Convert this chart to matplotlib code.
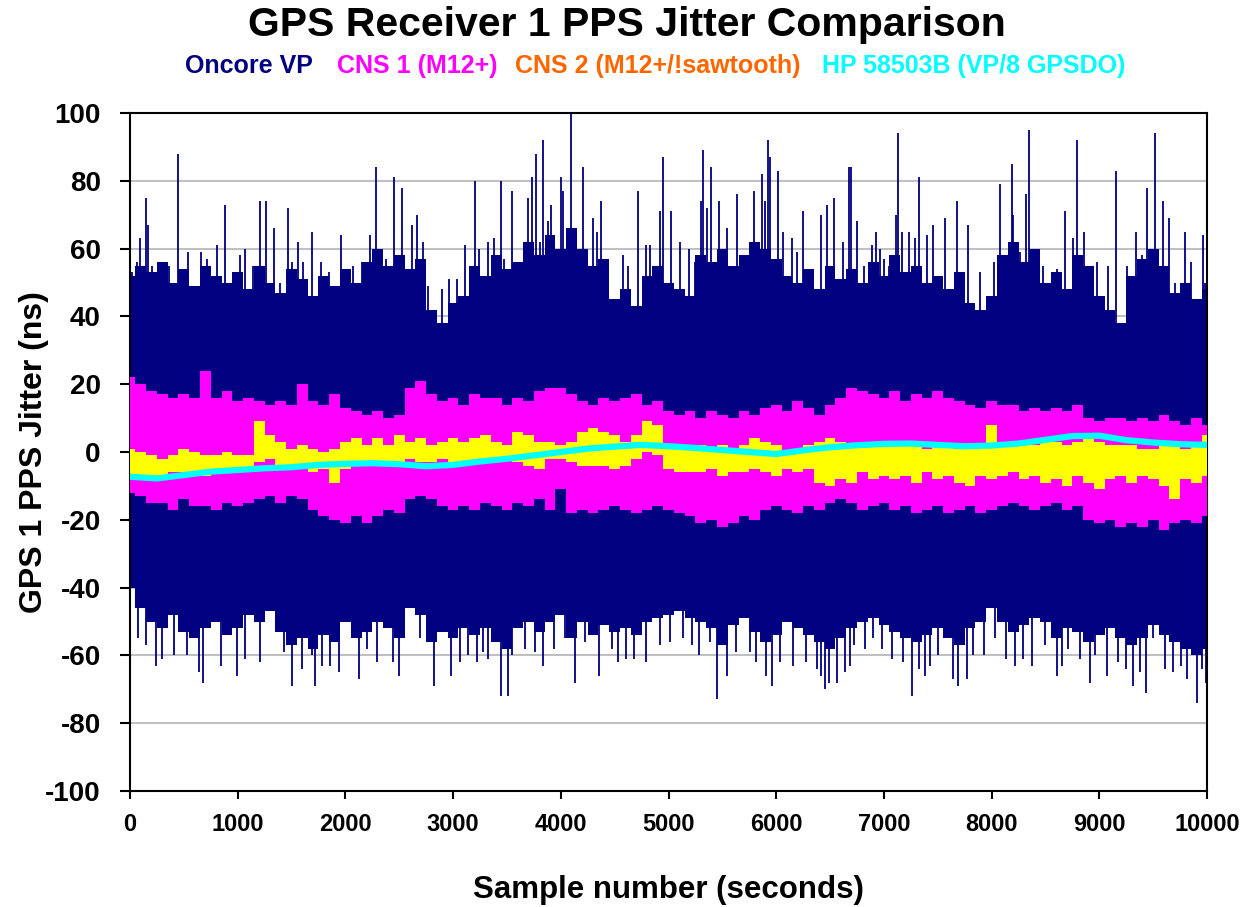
import matplotlib
matplotlib.use('Agg')
import matplotlib.pyplot as plt

plt.rcParams['font.family'] = ['Liberation Sans', 'DejaVu Sans']
plt.rcParams['axes.unicode_minus'] = False

# Oncore VP: tall spikes above zero (sample, ns)
top_x = [15, 62, 93, 149, 170, 201, 263, 310, 365, 443, 495, 535, 619, 659, 718, 811, 882, 975,
         1021, 1068, 1139, 1207, 1263, 1337, 1393, 1464, 1501, 1557, 1609, 1687, 1773, 1851, 1956,
         2067, 2157, 2228, 2284, 2377, 2451, 2523, 2615, 2668, 2724, 2764, 2894, 2965, 3033, 3110,
         3200, 3244, 3327, 3383, 3442, 3473, 3550, 3621, 3693, 3730, 3767, 3807, 3838, 3878, 3912,
         4002, 4024, 4092, 4141, 4203, 4302, 4333, 4373, 4426, 4575, 4627, 4720, 4791, 4828, 4921,
         4952, 5023, 5107, 5194, 5246, 5299, 5317, 5355, 5392, 5466, 5540, 5633, 5711, 5794, 5865,
         5899, 5924, 5943, 6014, 6067, 6144, 6196, 6252, 6345, 6413, 6469, 6537, 6617, 6679, 6691,
         6747, 6815, 6889, 6926, 6963, 7004, 7050, 7109, 7127, 7165, 7236, 7291, 7329, 7403, 7459,
         7567, 7675, 7784, 7892, 8022, 8078, 8115, 8186, 8201, 8263, 8319, 8350, 8480, 8604, 8681,
         8758, 8789, 8860, 8975, 9084, 9155, 9260, 9340, 9393, 9446, 9520, 9594, 9650, 9702, 9795,
         9848, 9959, 9981]
top_y = [53, 56, 63, 75, 67, 55, 51, 56, 55, 88, 52, 59, 48, 59, 57, 61, 73, 53,
         58, 60, 55, 74, 74, 66, 50, 72, 56, 62, 56, 65, 56, 53, 64,
         55, 56, 64, 84, 57, 81, 78, 67, 70, 62, 49, 48, 51, 51, 61,
         80, 60, 62, 63, 80, 57, 77, 55, 75, 81, 88, 62, 92, 68, 73,
         81, 77, 100, 57, 84, 69, 65, 74, 57, 58, 55, 77, 61, 61, 71,
         87, 71, 62, 60, 56, 74, 89, 72, 84, 74, 66, 76, 54, 77, 82,
         74, 92, 87, 83, 65, 63, 59, 71, 54, 70, 73, 75, 62, 84, 84,
         68, 55, 61, 65, 60, 57, 55, 70, 94, 65, 65, 63, 81, 64, 67,
         69, 74, 67, 53, 56, 79, 57, 85, 70, 59, 76, 95, 55, 54, 71,
         63, 92, 65, 56, 55, 83, 55, 65, 58, 78, 94, 74, 69, 50, 65,
         56, 64, 50]

# Oncore VP: spikes below zero
bot_x = [25, 56, 77, 130, 149, 223, 241, 294, 350, 409, 474, 532, 573, 644, 681, 774, 842, 922,
         990, 1068, 1170, 1207, 1377, 1430, 1501, 1594, 1687, 1721, 1780, 1857, 1944, 2037, 2123,
         2197, 2290, 2358, 2439, 2501, 2631, 2693, 2739, 2823, 2894, 2977, 3064, 3141, 3219, 3281,
         3327, 3442, 3513, 3550, 3668, 3761, 3838, 3937, 4039, 4132, 4225, 4352, 4473, 4534, 4606,
         4680, 4791, 4921, 5014, 5138, 5215, 5280, 5386, 5447, 5540, 5627, 5757, 5813, 5902, 5958,
         6036, 6159, 6277, 6376, 6413, 6453, 6494, 6568, 6639, 6685, 6722, 6824, 6901, 6979, 7072,
         7180, 7257, 7329, 7381, 7428, 7505, 7638, 7691, 7768, 7830, 7929, 8031, 8130, 8217, 8294,
         8372, 8495, 8610, 8650, 8712, 8820, 8913, 8960, 9068, 9176, 9248, 9316, 9378, 9433, 9501,
         9610, 9687, 9755, 9811, 9904, 9950, 9990]
bot_y = [-31, -44, -55, -32, -57, -46, -63, -61, -47, -60, -45, -60, -39, -65, -68, -41, -63, -47,
         -66, -61, -43, -62, -36, -59, -69, -64, -60, -69, -63, -63, -65, -46, -67,
         -58, -62, -38, -62, -66, -32, -55, -45, -69, -52, -66, -62, -60, -62, -59,
         -61, -72, -72, -60, -58, -59, -63, -58, -55, -68, -56, -66, -58, -62, -61,
         -61, -62, -57, -56, -55, -57, -60, -56, -73, -66, -59, -59, -62, -66, -69,
         -62, -63, -62, -64, -66, -70, -68, -68, -65, -63, -57, -58, -55, -58, -61,
         -62, -72, -64, -66, -63, -60, -67, -69, -67, -60, -60, -55, -61, -63, -61,
         -63, -57, -66, -63, -58, -61, -68, -60, -66, -62, -64, -69, -65, -71, -55,
         -64, -65, -63, -67, -74, -64, -68]

# every 100 samples: dense body of each trace
band_t = list(range(0, 10001, 100))
oncore_hi = [52, 55, 53, 56, 50, 54, 49, 55, 52, 50, 53, 48, 55, 50, 47, 54, 51, 46, 52, 49,
             54, 50, 56, 60, 55, 58, 54, 57, 42, 38, 44, 46, 55, 52, 58, 54, 56, 62, 58, 64,
             60, 66, 60, 55, 57, 45, 48, 43, 52, 55, 50, 48, 46, 58, 56, 60, 55, 58, 62, 60,
             57, 52, 50, 54, 48, 55, 51, 54, 50, 56, 52, 58, 53, 55, 50, 52, 48, 53, 44, 42,
             46, 58, 62, 56, 60, 50, 53, 48, 58, 55, 46, 42, 38, 52, 57, 60, 55, 47, 50, 45, 48]
oncore_lo = [-40, -46, -50, -52, -48, -53, -55, -52, -50, -54, -52, -48, -50, -47, -53, -57, -55,
             -58, -54, -56, -50, -55, -53, -50, -52, -55, -46, -48, -56, -53, -55, -52, -54, -52,
             -56, -58, -52, -50, -53, -50, -48, -55, -50, -54, -51, -53, -52, -54, -50, -49, -48,
             -47, -49, -50, -52, -57, -51, -49, -53, -56, -54, -50, -52, -54, -56, -58, -55, -52,
             -50, -49, -51, -53, -55, -56, -54, -52, -55, -57, -52, -50, -46, -50, -53, -51, -49,
             -50, -55, -52, -53, -56, -54, -52, -55, -57, -55, -51, -54, -56, -58, -60, -58]
cns1_hi = [22, 20, 18, 17, 16, 17, 16, 24, 16, 18, 15, 16, 15, 14, 15, 14, 20, 15, 14, 17,
           13, 12, 11, 12, 10, 11, 19, 21, 17, 15, 16, 14, 17, 16, 16, 14, 16, 15, 18, 19,
           19, 17, 15, 14, 16, 15, 16, 17, 14, 15, 12, 11, 12, 10, 12, 11, 10, 12, 11, 13,
           14, 12, 15, 13, 11, 14, 16, 19, 18, 17, 16, 18, 15, 17, 16, 18, 16, 15, 14, 13,
           15, 14, 14, 12, 13, 12, 13, 12, 14, 10, 9, 10, 10, 9, 10, 9, 11, 9, 8, 10, 8]
cns1_lo = [-12, -13, -15, -15, -17, -14, -16, -16, -17, -15, -16, -15, -14, -13, -15, -13, -14,
           -17, -19, -20, -21, -19, -21, -19, -17, -18, -14, -13, -14, -16, -17, -16, -17, -15,
           -16, -17, -15, -16, -14, -17, -11, -18, -17, -18, -17, -16, -17, -18, -17, -16, -17,
           -18, -19, -21, -20, -22, -21, -19, -20, -17, -16, -17, -18, -16, -17, -15, -14, -15,
           -17, -16, -15, -17, -16, -18, -17, -16, -18, -17, -16, -18, -17, -16, -15, -16, -17,
           -16, -15, -17, -16, -20, -21, -20, -22, -21, -22, -20, -23, -21, -20, -21, -19]
cns2_hi = [1, 0, -1, -2, -1, 1, 0, -1, -1, 0, -1, -1, 9, 5, 3, 1, 2, 1, 0, 1,
           3, 4, 2, 4, 2, 5, 3, 4, 2, 3, 4, 3, 4, 5, 3, 2, 6, 5, 3, 3,
           2, 3, 6, 7, 6, 5, 3, 5, 9, 8, 2, 1, 1, 2, 1, 2, 1, 2, 4, 3,
           2, 0, 1, 2, 3, 4, 3, 2, 2, 3, 2, 2, 2, 2, 1, 2, 2, 1, 1, 2,
           8, 2, 2, 2, 2, 3, 3, 2, 3, 4, 3, 2, 2, 2, 1, 1, 2, 2, 1, 3, 5]
cns2_lo = [-7, -8, -8, -7, -6, -6, -7, -7, -5, -6, -6, -5, -3, -2, -4, -5, -4, -6, -5, -9,
           -5, -3, -3, -3, -4, -3, -2, -3, -3, -2, -3, -4, -3, -2, -3, -2, -3, -4, -5, -2,
           -2, -3, -4, -4, -4, -5, -4, -2, 0, -1, -5, -6, -6, -6, -5, -7, -6, -6, -5, -6,
           -7, -5, -6, -5, -9, -10, -8, -9, -6, -8, -7, -8, -7, -9, -6, -8, -7, -9, -10, -7,
           -8, -7, -6, -8, -7, -9, -8, -10, -7, -9, -11, -8, -7, -9, -7, -8, -10, -14, -8, -9, -7]

# HP 58503B
hp_t = list(range(0, 10001, 250))
hp_y = [-7.3, -7.8, -6.8, -5.8, -5.3, -4.8, -4.5, -3.8, -3.5, -3.3, -3.6, -4.2, -3.8, -2.8,
        -2.0, -1.0, 0.0, 1.0, 1.6, 2.1, 1.7, 1.2, 0.6, 0.0, -0.6, 0.5, 1.4, 2.0, 2.4, 2.5,
        2.1, 1.7, 1.9, 2.5, 3.6, 4.7, 4.8, 3.5, 2.8, 2.3, 2.1]

navy = '#000080'
pink = '#FF00FF'
yellow = '#FFFF00'
cyan = '#00FFFF'
orange = '#FF6600'

fig = plt.figure(figsize=(12.43, 9.07), dpi=100)
ax = fig.add_axes([130 / 1243, 116 / 907, 1077 / 1243, 678 / 907])

ax.fill_between(band_t, oncore_lo, oncore_hi, step='mid', color=navy, lw=0, zorder=2)
ax.vlines(top_x, 0, top_y, color=navy, lw=1.3, zorder=2)
ax.vlines(bot_x, bot_y, 0, color=navy, lw=1.3, zorder=2)

ax.fill_between(band_t, cns1_lo, cns1_hi, step='mid', color=pink, lw=0, zorder=3)
ax.fill_between(band_t, cns2_lo, cns2_hi, step='mid', color=yellow, lw=0, zorder=4)
ax.plot(hp_t, hp_y, color=cyan, lw=4.5, zorder=5)

ax.set_xlim(0, 10000)
ax.set_ylim(-100, 100)
ax.set_xticks(range(0, 10001, 1000))
ax.set_yticks(range(-100, 101, 20))
ax.yaxis.grid(True, color='#c0c0c0', lw=1.5, zorder=1)
ax.set_axisbelow(True)
for s in ax.spines.values():
    s.set_color('black')
    s.set_linewidth(1.5)

ax.tick_params(axis='both', direction='out', width=1.5, color='black')
ax.tick_params(axis='y', length=7, pad=14)
ax.tick_params(axis='x', length=6, pad=10)
for lab in ax.get_yticklabels():
    lab.set_fontsize(20)
    lab.set_fontweight('bold')
for lab in ax.get_xticklabels():
    lab.set_fontsize(17)
    lab.set_fontweight('bold')
    lab.set_family(['Liberation Sans Narrow', 'Liberation Sans'])

ax.set_ylabel('GPS 1 PPS Jitter (ns)', fontsize=23, fontweight='bold', labelpad=-3)
ax.set_xlabel('Sample number (seconds)', fontsize=22.5, fontweight='bold', labelpad=28)

fig.text(627 / 1243, 1 - 25 / 907, 'GPS Receiver 1 PPS Jitter Comparison', ha='center',
         va='center', fontsize=29.5, fontweight='bold')

legend = [('Oncore VP', navy, 185), ('CNS 1 (M12+)', pink, 337),
          ('CNS 2 (M12+/!sawtooth)', orange, 515), ('HP 58503B (VP/8 GPSDO)', cyan, 822)]
for name, col, xp in legend:
    fig.text(xp / 1243, 1 - 66 / 907, name, ha='left', va='center', fontsize=18,
             fontweight='bold', color=col)

plt.savefig('out.png', dpi=100)
